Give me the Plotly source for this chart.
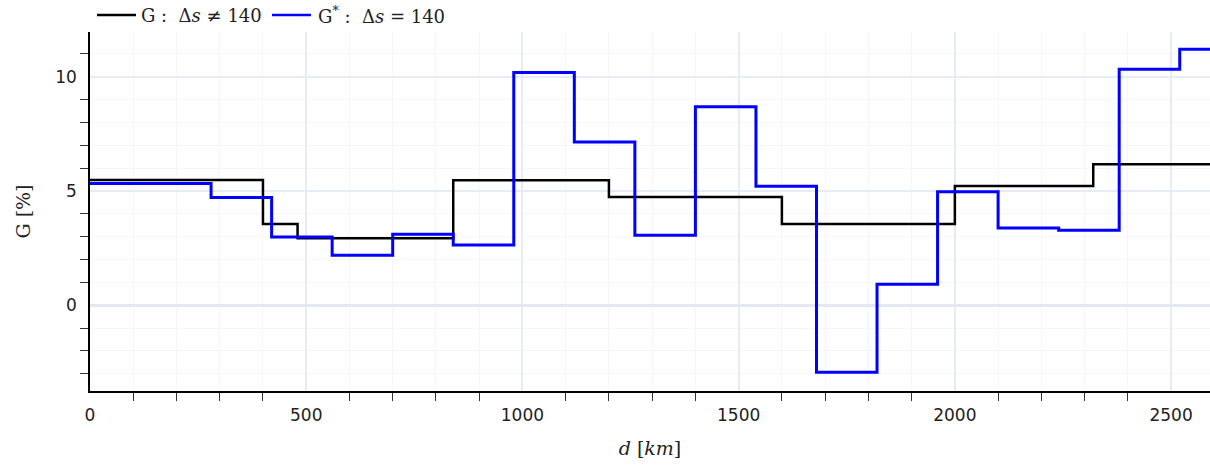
import plotly.graph_objects as go

# Step series (x = start of each segment, last point closes the final segment)
black_x = [0, 400, 480, 840, 1200, 1600, 2000, 2320, 2590]
black_y = [5.48, 3.55, 2.93, 5.47, 4.73, 3.55, 5.22, 6.17, 6.17]

blue_x = [0, 280, 420, 560, 700, 840, 980, 1120, 1260, 1400, 1540, 1680, 1820,
          1960, 2100, 2240, 2380, 2520, 2590]
blue_y = [5.32, 4.71, 2.99, 2.19, 3.10, 2.63, 10.18, 7.14, 3.06, 8.68, 5.20, -2.93,
          0.92, 4.96, 3.38, 3.28, 10.32, 11.20, 11.20]

black_name = "G :  Δ<i>s</i> ≠ 140"
blue_name = "G<sup>*</sup> :  Δ<i>s</i> = 140"

serif = "DejaVu Serif"
sans = "DejaVu Sans"

# plot area geometry in px
L, R, T, B = 90, 0, 32, 74
W, H = 1210, 465
pw, ph = W - L - R, H - T - B


def px_x(p):
    return (p - L) / pw


def px_y(p):
    return (H - B - p) / ph


fig = go.Figure()
fig.add_trace(go.Scatter(x=black_x, y=black_y, mode="lines", line_shape="hv",
                         line=dict(color="#000000", width=2.5), name=black_name,
                         showlegend=False))
fig.add_trace(go.Scatter(x=blue_x, y=blue_y, mode="lines", line_shape="hv",
                         line=dict(color="#0000FF", width=3), name=blue_name,
                         showlegend=False))

# legend drawn manually (line sample + label)
legend_items = [("#000000", black_name, 97, 136, 139),
                ("#0000FF", blue_name, 272, 311, 316)]
ly = px_y(15)
for color, label, x0, x1, xt in legend_items:
    fig.add_shape(type="line", xref="paper", yref="paper",
                  x0=px_x(x0), x1=px_x(x1), y0=ly, y1=ly,
                  line=dict(color=color, width=2.5))
    fig.add_annotation(xref="paper", yref="paper", x=px_x(xt), y=ly,
                       xanchor="left", yanchor="middle", showarrow=False,
                       text=label, font=dict(family=serif, size=18, color="#222"))

major_grid = "#E6ECF6"
minor_grid = "#F3F6FB"

fig.update_layout(
    width=W, height=H,
    margin=dict(l=L, r=R, t=T, b=B, autoexpand=False),
    paper_bgcolor="white", plot_bgcolor="white",
    showlegend=False,
    xaxis=dict(
        range=[0, 2590], dtick=500, tick0=0,
        showline=True, linecolor="black", linewidth=1.5,
        ticks="outside", ticklen=8, tickcolor="rgba(0,0,0,0)",
        tickfont=dict(family=sans, size=17, color="#222"),
        showgrid=True, gridcolor=major_grid, gridwidth=1.5,
        zeroline=False,
        minor=dict(ticks="outside", ticklen=8, tickcolor="#333", dtick=100,
                   showgrid=True, gridcolor=minor_grid, gridwidth=1),
        title=dict(text="<i>d</i> [<i>km</i>]", font=dict(family=serif, size=19, color="#222"),
                   standoff=18),
    ),
    yaxis=dict(
        range=[-3.75, 11.95], dtick=5, tick0=0,
        showline=True, linecolor="black", linewidth=1.5,
        ticks="outside", ticklen=8, tickcolor="rgba(0,0,0,0)",
        tickfont=dict(family=sans, size=17, color="#222"),
        showgrid=True, gridcolor=major_grid, gridwidth=1.5,
        zeroline=True, zerolinecolor="#E3E8F3", zerolinewidth=2.5,
        minor=dict(ticks="outside", ticklen=8, tickcolor="#333", dtick=1,
                   showgrid=True, gridcolor=minor_grid, gridwidth=1),
        title=dict(text="G [%]", font=dict(family=serif, size=19, color="#222"),
                   standoff=20),
    ),
)

fig.write_html("out.html")
